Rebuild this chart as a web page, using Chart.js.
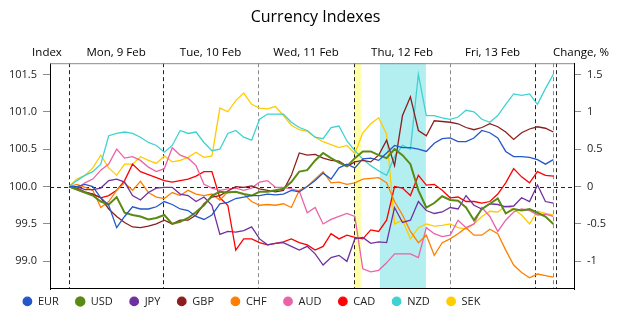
<!DOCTYPE html>
<html>
<head>
<meta charset="utf-8">
<script src="https://cdn.jsdelivr.net/npm/chart.js@4.4.1/dist/chart.umd.min.js"></script>
<style>
  html, body { margin: 0; padding: 0; background: #fff; }
  #wrap { width: 625px; height: 315px; }
</style>
</head>
<body>
<div id="wrap"><canvas id="currencyChart"></canvas></div>
<script>
// hours since Mon 9 Feb 00:00
const hours = [0, 2, 4, 6, 8, 10, 12, 14, 16, 18, 20, 22, 24, 26, 28, 30, 32, 34, 36, 38,
  40, 42, 44, 46, 48, 50, 52, 54, 56, 58, 60, 62, 64, 66, 68, 70, 72, 74, 76, 78,
  80, 82, 84, 86, 88, 90, 92, 94, 96, 98, 100, 102, 104, 106, 108, 110, 112, 114, 116, 118,
  120, 122];

const eur = [100.0, 100.0, 100.03, 100.0, 99.85, 99.75, 99.45, 99.6, 99.73, 99.7,
  99.7, 99.73, 99.8, 99.76, 99.7, 99.68, 99.6, 99.56, 99.62, 99.77,
  99.79, 99.84, 99.86, 99.88, 99.88, 99.9, 99.89, 99.9, 99.95, 99.93,
  100.0, 100.08, 100.18, 100.1, 100.25, 100.3, 100.25, 100.37, 100.38, 100.35,
  100.45, 100.55, 100.52, 100.52, 100.5, 100.47, 100.58, 100.64, 100.65, 100.6,
  100.6, 100.65, 100.75, 100.72, 100.65, 100.47, 100.4, 100.4, 100.39, 100.36,
  100.3, 100.36];
const usd = [100.0, 99.96, 99.92, 99.88, 99.8, 99.76, 99.86, 99.65, 99.62, 99.6,
  99.56, 99.58, 99.62, 99.5, 99.53, 99.58, 99.66, 99.75, 99.88, 99.93,
  99.92, 99.93, 99.9, 99.88, 99.93, 99.93, 99.95, 99.97, 100.06, 100.2,
  100.22, 100.35, 100.45, 100.38, 100.32, 100.27, 100.38, 100.47, 100.47, 100.42,
  100.38, 100.5, 100.42, 100.3, 99.95, 99.72, 99.78, 99.87, 99.82, 99.81,
  99.72, 99.55, 99.7, 99.77, 99.84, 99.64, 99.7, 99.68, 99.7, 99.65,
  99.6, 99.5];
const jpy = [100.0, 100.0, 99.96, 99.96, 99.98, 100.08, 100.1, 100.06, 99.88, 99.82,
  99.92, 99.98, 99.99, 99.99, 99.9, 99.88, 99.8, 99.86, 99.75, 99.36,
  99.4, 99.39, 99.41, 99.46, 99.3, 99.22, 99.24, 99.25, 99.2, 99.15,
  99.2, 99.1, 98.95, 99.05, 99.08, 99.0, 99.3, 99.32, 99.24, 99.26,
  99.25, 99.72, 99.52, 99.55, 99.8, 99.68, 99.64, 99.66, 99.72, 99.7,
  99.88, 99.75, 99.7, 99.77, 99.76, 99.73, 99.74, 99.85, 99.8, 100.02,
  99.8, 99.78];
const gbp = [100.0, 99.98, 99.93, 99.9, 99.85, 99.7, 99.6, 99.52, 99.46, 99.45,
  99.47, 99.5, 99.55, 99.5, 99.55, 99.55, 99.62, 99.77, 99.86, 99.88,
  99.94, 100.0, 99.99, 100.01, 99.97, 99.95, 99.93, 99.95, 100.15, 100.45,
  100.42, 100.43, 100.38, 100.35, 100.34, 100.27, 100.33, 100.35, 100.33, 100.42,
  100.62, 100.28, 100.95, 101.2, 100.75, 100.68, 100.88, 100.87, 100.86, 100.84,
  100.79, 100.76, 100.79, 100.84, 100.8, 100.73, 100.63, 100.72, 100.77, 100.8,
  100.78, 100.73];
const chf = [100.0, 100.03, 99.99, 99.95, 99.72, 99.8, 99.95, 100.05, 99.95, 100.07,
  99.92, 99.86, 99.84, 99.92, 99.88, 99.95, 99.9, 99.88, 99.9, 99.82,
  99.93, 99.93, 99.9, 99.8, 99.75, 99.76, 99.75, 99.77, 99.72, 99.95,
  100.0, 100.1, 100.2, 100.05, 100.06, 100.03, 100.05, 100.1, 100.11, 100.12,
  100.05, 99.8, 99.62, 99.4, 99.25, 99.35, 99.08, 99.25, 99.3, 99.37,
  99.45, 99.35, 99.35, 99.43, 99.37, 99.15, 98.95, 98.85, 98.78, 98.83,
  98.81, 98.79];
const aud = [100.0, 99.97, 100.05, 100.1, 100.22, 100.3, 100.5, 100.38, 100.4, 100.35,
  100.26, 100.2, 100.24, 100.52, 100.42, 100.38, 100.28, 100.03, 99.98, 99.95,
  99.97, 99.98, 99.95, 99.98, 100.06, 100.08, 99.99, 99.99, 99.97, 99.94,
  99.65, 99.72, 99.5, 99.56, 99.6, 99.64, 99.6, 98.9, 98.86, 98.88,
  98.98, 99.1, 99.1, 99.1, 99.05, 99.45, 99.37, 99.33, 99.35, 99.55,
  99.45, 99.5, 99.72, 99.6, 99.4, 99.55, 99.66, 99.7, 99.68, 99.62,
  99.63, 99.6];
const cad = [100.0, 99.96, 99.92, 99.9, 99.85, 99.88, 99.95, 100.08, 100.3, 100.2,
  100.16, 100.12, 100.08, 100.06, 100.08, 100.1, 100.14, 100.2, 100.2, 99.85,
  99.75, 99.15, 99.3, 99.3, 99.25, 99.22, 99.24, 99.26, 99.3, 99.25,
  99.22, 99.15, 99.2, 99.37, 99.3, 99.35, 99.32, 99.3, 99.42, 99.4,
  99.55, 100.0, 99.98, 99.88, 100.15, 100.02, 100.03, 99.95, 99.85, 99.86,
  99.8, 99.8, 99.78, 99.8, 99.9, 100.05, 100.24, 100.13, 100.05, 100.2,
  100.15, 100.14];
const nzd = [100.0, 100.08, 100.15, 100.2, 100.3, 100.68, 100.71, 100.73, 100.71, 100.66,
  100.59, 100.55, 100.46, 100.55, 100.75, 100.71, 100.73, 100.59, 100.48, 100.5,
  100.71, 100.75, 100.66, 100.62, 100.9, 100.97, 100.97, 100.97, 100.86, 100.79,
  100.75, 100.66, 100.64, 100.79, 100.81, 100.61, 100.48, 100.37, 100.28, 100.21,
  100.15, 100.4, 100.55, 100.5, 101.5, 100.95, 100.95, 100.92, 100.9, 100.93,
  101.02, 101.0, 100.9, 100.86, 100.95, 101.1, 101.24, 101.22, 101.24, 101.1,
  101.31, 101.5];
const sek = [100.0, 100.1, 100.15, 100.25, 100.42, 100.25, 100.15, 100.3, 100.3, 100.4,
  100.35, 100.31, 100.41, 100.33, 100.35, 100.39, 100.46, 100.39, 100.41, 101.05,
  101.0, 101.15, 101.25, 101.1, 101.05, 101.04, 101.07, 100.95, 100.82, 100.76,
  100.74, 100.66, 100.6, 100.56, 100.52, 100.55, 100.44, 100.72, 100.84, 100.92,
  100.7, 99.5, 99.55, 99.3, 99.45, 99.5, 99.47, 99.48, 99.5, 99.45,
  99.43, 99.5, 99.6, 99.67, 99.66, 99.74, 99.7, 99.62, 99.5, 99.67,
  99.64, 99.62];

const seriesNames = ["EUR", "USD", "JPY", "GBP", "CHF", "AUD", "CAD", "NZD", "SEK"];
const seriesValues = [eur, usd, jpy, gbp, chf, aud, cad, nzd, sek];
const seriesColors = ["#2457c9", "#5b8a14", "#7030a0", "#8b1f1f", "#ff8000",
  "#ec62a8", "#ff0000", "#40d2d2", "#ffcc00"];

const dayNames = ["Mon, 9 Feb", "Tue, 10 Feb", "Wed, 11 Feb", "Thu, 12 Feb", "Fri, 13 Feb"];
const dayBreaks = [0, 23.7, 47.6, 71.8, 96.0, 117.4];   // hours
const extraBreaks = [121.9, 122.7];
const yellowBand = [71.8, 73.5];
const cyanBand = [78.3, 89.9];
const indexTicks = [99.0, 99.5, 100.0, 100.5, 101.0, 101.5];
const changeTicks = [-1, -0.5, 0, 0.5, 1, 1.5];
const indexMin = 98.63, indexMax = 101.65;

const FONT = "'Open Sans', 'DejaVu Sans', sans-serif";

// 📌 Bands, separators and the 100 line
const decorations = {
    id: "decorations",
    beforeDatasetsDraw(chart) {
        const { ctx, chartArea: a, scales: { x, y } } = chart;
        ctx.save();
        const band = (r, color) => {
            const x1 = x.getPixelForValue(r[0]), x2 = x.getPixelForValue(r[1]);
            ctx.fillStyle = color;
            ctx.fillRect(x1, a.top, x2 - x1, a.bottom - a.top);
        };
        band(yellowBand, "#ffffa8");
        band(cyanBand, "#b3eff1");

        ctx.lineWidth = 1;
        ctx.setLineDash([4, 3]);
        dayBreaks.concat(extraBreaks).forEach((h, i) => {
            const px = Math.round(x.getPixelForValue(h)) + 0.5;
            ctx.strokeStyle = (i === 2 || i === 4 || i === 6) ? "#8c8c8c" : "#222";
            ctx.beginPath();
            ctx.moveTo(px, a.top);
            ctx.lineTo(px, a.bottom);
            ctx.stroke();
        });
        const py = Math.round(y.getPixelForValue(100)) + 0.5;
        ctx.strokeStyle = "#222";
        ctx.beginPath();
        ctx.moveTo(a.left, py);
        ctx.lineTo(a.right, py);
        ctx.stroke();
        ctx.restore();
    },
    afterDatasetsDraw(chart) {
        const { ctx, chartArea: a } = chart;
        ctx.save();
        ctx.lineWidth = 1;
        ctx.strokeStyle = "#8c8c8c";
        ctx.beginPath();
        ctx.moveTo(a.left, a.top + 0.5);
        ctx.lineTo(a.right, a.top + 0.5);
        ctx.stroke();
        ctx.strokeStyle = "#000";
        ctx.beginPath();
        ctx.moveTo(a.left, a.bottom - 0.5);
        ctx.lineTo(a.right, a.bottom - 0.5);
        ctx.stroke();
        ctx.restore();
    },
    afterDraw(chart) {
        const { ctx, chartArea: a, scales: { x } } = chart;
        const ty = a.top - 10;
        ctx.save();
        ctx.font = "11.5px " + FONT;
        ctx.fillStyle = "#000";
        ctx.textAlign = "center";
        ctx.textBaseline = "middle";
        dayNames.forEach((d, i) => {
            const cx = (x.getPixelForValue(dayBreaks[i]) + x.getPixelForValue(dayBreaks[i + 1])) / 2;
            ctx.fillText(d, cx, ty);
        });
        ctx.fillText("Index", a.left - 3, ty);
        ctx.fillText("Change, %", a.right + 7, ty);
        ctx.restore();
    },
    afterLayout(chart) {
        // lift the legend row closer to the plot
        chart.legend.top -= 9.5;
    }
};

document.addEventListener("DOMContentLoaded", function () {
    const ctx = document.getElementById("currencyChart").getContext("2d");

    const datasets = seriesNames.map((name, i) => ({
        label: name,
        data: hours.map((h, k) => ({ x: h, y: seriesValues[i][k] })),
        borderColor: seriesColors[i],
        backgroundColor: seriesColors[i],
        borderWidth: name === "USD" ? 2 : 1.3,
        pointRadius: 0,
        tension: 0
    }));

    const tickFont = { family: FONT, size: 11 };

    new Chart(ctx, {
        type: "line",
        data: { datasets },
        options: {
            responsive: true,
            maintainAspectRatio: false,
            animation: false,
            layout: { padding: { left: 6, right: 0, top: 0, bottom: 0 } },
            plugins: {
                title: {
                    display: true,
                    text: "Currency Indexes",
                    color: "#000",
                    font: { family: FONT, size: 16, weight: "normal" },
                    padding: { top: 8, bottom: 36 }
                },
                legend: {
                    position: "bottom",
                    align: "start",
                    maxHeight: 26,
                    labels: {
                        usePointStyle: true,
                        pointStyle: "circle",
                        boxWidth: 10,
                        boxHeight: 6,
                        padding: 16.4,
                        color: "#222",
                        font: { family: FONT, size: 11 }
                    }
                },
                tooltip: { enabled: false }
            },
            scales: {
                x: {
                    type: "linear",
                    display: false,
                    min: -4.79,
                    max: 127.2
                },
                y: {
                    position: "left",
                    min: indexMin,
                    max: indexMax,
                    afterBuildTicks: s => { s.ticks = indexTicks.map(v => ({ value: v })); },
                    afterFit: s => { s.width = 44; },
                    ticks: {
                        callback: v => Number(v).toFixed(1),
                        color: "#222",
                        font: tickFont,
                        padding: 6
                    },
                    grid: { drawOnChartArea: false, tickLength: 7, tickColor: "#8c8c8c" },
                    border: { color: "#000", width: 1 }
                },
                y2: {
                    position: "right",
                    min: indexMin - 100,
                    max: indexMax - 100,
                    afterBuildTicks: s => { s.ticks = changeTicks.map(v => ({ value: v })); },
                    afterFit: s => { s.width = 51; },
                    ticks: {
                        callback: v => String(v),
                        color: "#222",
                        font: tickFont,
                        padding: 6
                    },
                    grid: { drawOnChartArea: false, tickLength: 7, tickColor: "#8c8c8c" },
                    border: { color: "#000", width: 1 }
                }
            }
        },
        plugins: [decorations]
    });
});
</script>
</body>
</html>
